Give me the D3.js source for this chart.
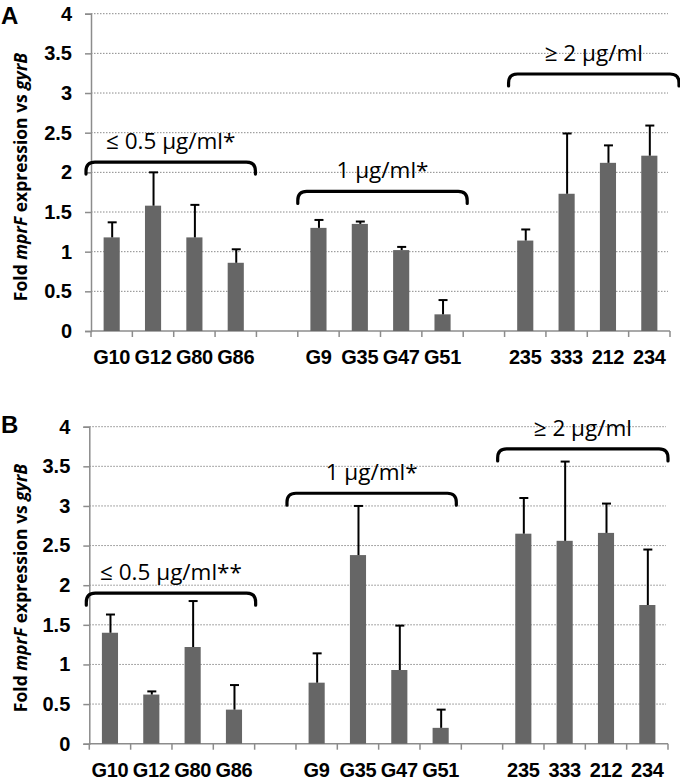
<!DOCTYPE html>
<html>
<head>
<meta charset="utf-8">
<script src="https://cdn.jsdelivr.net/npm/d3@7"></script>
<style>
  html, body { margin: 0; padding: 0; background: #fff; }
  svg { display: block; }
</style>
</head>
<body>
<svg id="chart" width="680" height="782"></svg>
<script>
// ---- data ----
const categoryKeys = ["G10", "G12", "G80", "G86", "gap1", "G9", "G35", "G47", "G51", "gap2", "235", "333", "212", "234"];
const tickLabels   = ["G10", "G12", "G80", "G86", "", "G9", "G35", "G47", "G51", "", "235", "333", "212", "234"];
const yTicks = [0, 0.5, 1, 1.5, 2, 2.5, 3, 3.5, 4];

const meanA = [1.18, 1.58, 1.18, 0.86, null, 1.30, 1.35, 1.02, 0.21, null, 1.14, 1.73, 2.12, 2.21];
const errA  = [0.19, 0.42, 0.41, 0.17, null, 0.10, 0.03, 0.04, 0.18, null, 0.14, 0.76, 0.22, 0.38];
const meanB = [1.40, 0.62, 1.22, 0.43, null, 0.77, 2.38, 0.93, 0.20, null, 2.65, 2.56, 2.66, 1.75];
const errB  = [0.23, 0.04, 0.58, 0.31, null, 0.37, 0.62, 0.56, 0.23, null, 0.45, 1.00, 0.37, 0.70];

const bracketLabelsA = ["\u2264 0.5 \u00b5g/ml*", "1 \u00b5g/ml*", "\u2265 2 \u00b5g/ml"];
const bracketLabelsB = ["\u2264 0.5 \u00b5g/ml**", "1 \u00b5g/ml*", "\u2265 2 \u00b5g/ml"];
const bracketGroups = [["G10", "G86"], ["G9", "G51"], ["235", "234"]];
const bracketLevelsA = [2.13, 1.76, 3.24];
const bracketLevelsB = [1.90, 3.16, 3.72];

// ---- layout ----
const panels = [
  { letter: "A", means: meanA, errs: errA, labels: bracketLabelsA, levels: bracketLevelsA,
    x0: 91, x1: 670, yBottom: 331, yTop: 13.7, letterY: 24, titleY: 177,
    bShift: [[-5, -1], [0, 4], [4, 9]] },
  { letter: "B", means: meanB, errs: errB, labels: bracketLabelsB, levels: bracketLevelsB,
    x0: 89.3, x1: 668, yBottom: 743.7, yTop: 426.7, letterY: 433, titleY: 588,
    bShift: [[-3, 1], [-9, -5], [-5, 0]] }
];

const svg = d3.select("#chart");
const axisColor = "#8c8c8c";
const barColor = "#666666";

panels.forEach(p => {
  const g = svg.append("g");
  const x = d3.scaleBand().domain(categoryKeys).range([p.x0, p.x1]).padding(0);
  const y = d3.scaleLinear().domain([0, 4]).range([p.yBottom, p.yTop]);
  const bw = x.bandwidth();
  const barW = bw * 0.39;

  // gridlines
  g.selectAll("line.grid").data(yTicks.filter(t => t > 0)).join("line")
    .attr("x1", p.x0).attr("x2", p.x1 - 2)
    .attr("y1", d => y(d)).attr("y2", d => y(d))
    .attr("stroke", "#8a8a8a").attr("stroke-width", 1)
    .attr("stroke-dasharray", "1.5,1.5");

  // y axis
  const yAxis = d3.axisLeft(y).tickValues(yTicks).tickSize(6).tickFormat(d3.format("~g"));
  const ya = g.append("g").attr("transform", `translate(${p.x0},0)`).call(yAxis);
  ya.select(".domain").attr("stroke", axisColor).attr("stroke-width", 1.5);
  ya.selectAll(".tick line").attr("stroke", axisColor).attr("stroke-width", 1.5);
  ya.selectAll(".tick text")
    .attr("x", -19)
    .attr("font-family", "Liberation Sans, Arial, sans-serif")
    .attr("font-weight", "bold").attr("font-size", 20).attr("fill", "#000");

  // x axis
  const xa = g.append("g").attr("transform", `translate(0,${p.yBottom})`);
  xa.append("line").attr("x1", p.x0).attr("x2", p.x1)
    .attr("stroke", axisColor).attr("stroke-width", 1.5);
  const boundaries = categoryKeys.map(k => x(k)).concat([p.x1]);
  xa.selectAll("line.tk").data(boundaries).join("line")
    .attr("x1", d => d).attr("x2", d => d).attr("y1", 0).attr("y2", 6)
    .attr("stroke", axisColor).attr("stroke-width", 1.5);
  xa.selectAll("text").data(categoryKeys).join("text")
    .attr("x", d => x(d) + bw / 2).attr("y", 33)
    .attr("text-anchor", "middle")
    .attr("font-family", "Liberation Sans, Arial, sans-serif")
    .attr("font-weight", "bold").attr("font-size", 20).attr("fill", "#000")
    .attr("letter-spacing", -0.3)
    .text((d, i) => tickLabels[i]);

  // bars
  const rows = categoryKeys.map((k, i) => ({ k, m: p.means[i], e: p.errs[i] })).filter(r => r.m != null);
  g.selectAll("rect.bar").data(rows).join("rect")
    .attr("x", d => x(d.k) + (bw - barW) / 2).attr("width", barW)
    .attr("y", d => y(d.m)).attr("height", d => y(0) - y(d.m))
    .attr("fill", barColor);

  // error bars (upper only)
  const eg = g.selectAll("g.err").data(rows).join("g");
  eg.append("line")
    .attr("x1", d => x(d.k) + bw / 2 + 0.5).attr("x2", d => x(d.k) + bw / 2 + 0.5)
    .attr("y1", d => y(d.m)).attr("y2", d => y(d.m + d.e))
    .attr("stroke", "#000").attr("stroke-width", 2);
  eg.append("line")
    .attr("x1", d => x(d.k) + bw / 2 - 4).attr("x2", d => x(d.k) + bw / 2 + 5)
    .attr("y1", d => y(d.m + d.e)).attr("y2", d => y(d.m + d.e))
    .attr("stroke", "#000").attr("stroke-width", 2);

  // brackets
  bracketGroups.forEach((grp, i) => {
    const bx1 = x(grp[0]) + p.bShift[i][0];
    const bx2 = x(grp[1]) + bw + p.bShift[i][1];
    const top = y(p.levels[i]);
    const h = 12, r = 9;
    const path = `M${bx1},${top + h} L${bx1},${top + r} Q${bx1},${top} ${bx1 + r},${top} ` +
                 `L${bx2 - r},${top} Q${bx2},${top} ${bx2},${top + r} L${bx2},${top + h}`;
    g.append("path").attr("d", path).attr("fill", "none")
      .attr("stroke", "#000").attr("stroke-width", 3.2).attr("stroke-linecap", "round");
    g.append("text")
      .attr("x", (bx1 + bx2) / 2).attr("y", top - 13)
      .attr("text-anchor", "middle")
      .attr("font-family", "Open Sans, sans-serif")
      .attr("font-size", 22.5).attr("fill", "#000")
      .text(p.labels[i]);
  });

  // panel letter
  svg.append("text").attr("x", 1).attr("y", p.letterY)
    .attr("font-family", "Liberation Sans, Arial, sans-serif")
    .attr("font-weight", "bold").attr("font-size", 24).text(p.letter);

  // y title
  const t = svg.append("text")
    .attr("transform", `translate(27,${p.titleY}) rotate(-90)`)
    .attr("text-anchor", "middle")
    .attr("font-family", "Open Sans, sans-serif")
    .attr("font-weight", "bold").attr("font-size", 17.5).attr("fill", "#000");
  t.append("tspan").text("Fold ");
  t.append("tspan").attr("font-style", "italic").text("mprF");
  t.append("tspan").text(" expression vs ");
  t.append("tspan").attr("font-style", "italic").text("gyrB");
});
</script>
</body>
</html>
